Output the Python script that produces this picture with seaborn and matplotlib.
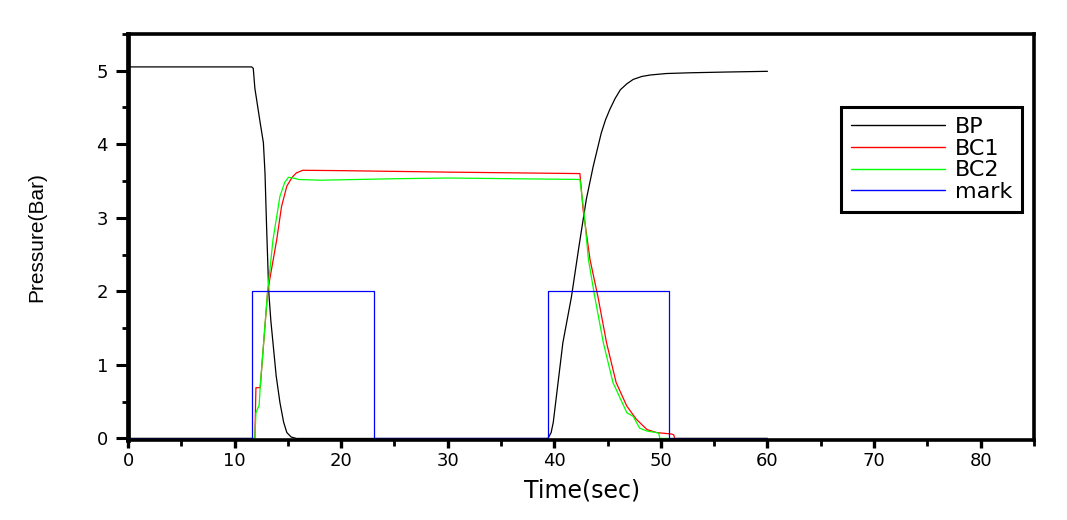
import numpy as np
import pandas as pd
import matplotlib
matplotlib.use("Agg")
import matplotlib.pyplot as plt
import seaborn as sns
from matplotlib.ticker import MultipleLocator

# ---- data ----
bp_t = [0, 11.6, 11.75, 11.9, 12.4, 12.7, 12.85, 13.0, 13.2, 13.4, 13.6, 13.9, 14.25, 14.6, 14.9, 15.3, 15.8,
        39.4, 39.7, 39.9, 40.8, 41.6, 42.3, 43.0, 43.65, 44.4, 44.8, 45.2, 45.7, 46.2, 46.8, 47.4, 48.2, 49.0,
        50.5, 52.7, 56.0, 60.0]
bp_v = [5.05, 5.05, 5.03, 4.76, 4.29, 4.02, 3.61, 2.88, 2.0, 1.6, 1.3, 0.85, 0.49, 0.22, 0.08, 0.02, 0.0,
        0.0, 0.08, 0.22, 1.3, 1.92, 2.6, 3.25, 3.7, 4.15, 4.33, 4.47, 4.62, 4.74, 4.82, 4.88, 4.92, 4.94,
        4.96, 4.97, 4.98, 4.99]

bc1_t = [0, 11.9, 12.0, 12.4, 13.1, 13.95, 14.4, 14.9, 15.4, 15.8, 16.4, 20.0, 30.0, 42.4,
         42.7, 43.35, 44.1, 44.9, 45.8, 46.8, 47.7, 48.7, 49.6, 51.0, 51.2, 51.3, 60.0]
bc1_v = [0, 0, 0.69, 0.69, 2.0, 2.7, 3.15, 3.43, 3.55, 3.61, 3.645, 3.64, 3.62, 3.6,
         3.11, 2.43, 1.92, 1.3, 0.76, 0.44, 0.26, 0.12, 0.08, 0.06, 0.05, 0.0, 0.0]

bc2_t = [0, 11.9, 12.0, 12.3, 12.4, 13.1, 13.6, 14.25, 14.7, 15.05, 15.5, 16.0, 18.0, 25.0, 30.0, 42.4,
         42.8, 43.2, 43.8, 44.6, 45.5, 46.8, 47.4, 48.0, 48.7, 49.6, 49.8, 49.9, 60.0]
bc2_v = [0, 0, 0.35, 0.45, 0.7, 2.0, 2.7, 3.29, 3.48, 3.55, 3.54, 3.52, 3.51, 3.53, 3.54, 3.52,
         3.05, 2.43, 1.92, 1.3, 0.76, 0.35, 0.3, 0.14, 0.1, 0.08, 0.07, 0.0, 0.0]

mark_t = [0, 11.6, 11.6, 23.1, 23.1, 39.4, 39.4, 50.8, 50.8, 60.0]
mark_v = [0, 0, 2, 2, 0, 0, 2, 2, 0, 0]

series_names = ["BP", "BC1", "BC2", "mark"]
series_colors = ["#000000", "#ff0000", "#00ff00", "#0000ff"]
x_ticks = [0, 10, 20, 30, 40, 50, 60, 70, 80]
y_ticks = [0, 1, 2, 3, 4, 5]

frames = []
for name, t, v in zip(series_names, [bp_t, bc1_t, bc2_t, mark_t], [bp_v, bc1_v, bc2_v, mark_v]):
    frames.append(pd.DataFrame({"t": t, "p": v, "series": name}))
df = pd.concat(frames, ignore_index=True)

sns.set_theme(style="white")
plt.rcParams['font.family'] = ['DejaVu Sans']
plt.rcParams.update({"text.color": "black", "axes.labelcolor": "black",
                     "xtick.color": "black", "ytick.color": "black"})

fig = plt.figure(figsize=(10.67, 5.2), dpi=100)
ax = fig.add_axes([0.12, 0.154, 0.849, 0.781])

for name, col in zip(series_names, series_colors):
    sub = df[df["series"] == name]
    sns.lineplot(data=sub, x="t", y="p", ax=ax, color=col, lw=0.9,
                 estimator=None, sort=False, label=name)

ax.set_xlim(0, 85)
ax.set_ylim(-0.02, 5.5)
ax.set_xticks(x_ticks)
ax.set_yticks(y_ticks)
ax.xaxis.set_minor_locator(MultipleLocator(5))
ax.yaxis.set_minor_locator(MultipleLocator(0.5))
ax.tick_params(axis="x", which="major", direction="out", length=6, width=2.4, labelsize=13,
               bottom=True, top=False, color="black", labelcolor="black", pad=3)
ax.tick_params(axis="y", which="major", direction="out", length=8.5, width=2.2, labelsize=13,
               left=True, right=False, color="black", labelcolor="black", pad=6)
ax.tick_params(axis="x", which="minor", direction="out", length=4, width=2.0,
               bottom=True, top=False, color="black")
ax.tick_params(axis="y", which="minor", direction="out", length=4, width=2.0,
               left=True, right=False, color="black")
for k, s in ax.spines.items():
    s.set_color("black")
    s.set_linewidth(2.6)
ax.spines["left"].set_linewidth(3.4)

ax.set_xlabel("Time(sec)", fontsize=17, color="black")
ax.xaxis.set_label_coords(0.501, -0.095)
ax.set_ylabel("Pressure(Bar)", fontsize=15, family="Liberation Sans", color="black")
ax.yaxis.set_label_coords(-0.09, 0.5)
ax.grid(False)

leg = ax.legend(loc="upper right", bbox_to_anchor=(0.987, 0.82), fontsize=16,
                frameon=True, fancybox=False, framealpha=1.0, handlelength=4.2, handletextpad=0.45,
                labelspacing=0.08, borderpad=0.45, borderaxespad=0)
leg.get_frame().set_edgecolor("black")
leg.get_frame().set_linewidth(2.2)
for line in leg.get_lines():
    line.set_linewidth(1.0)
for txt in leg.get_texts():
    txt.set_color("black")

fig.savefig("out.png", dpi=100)
